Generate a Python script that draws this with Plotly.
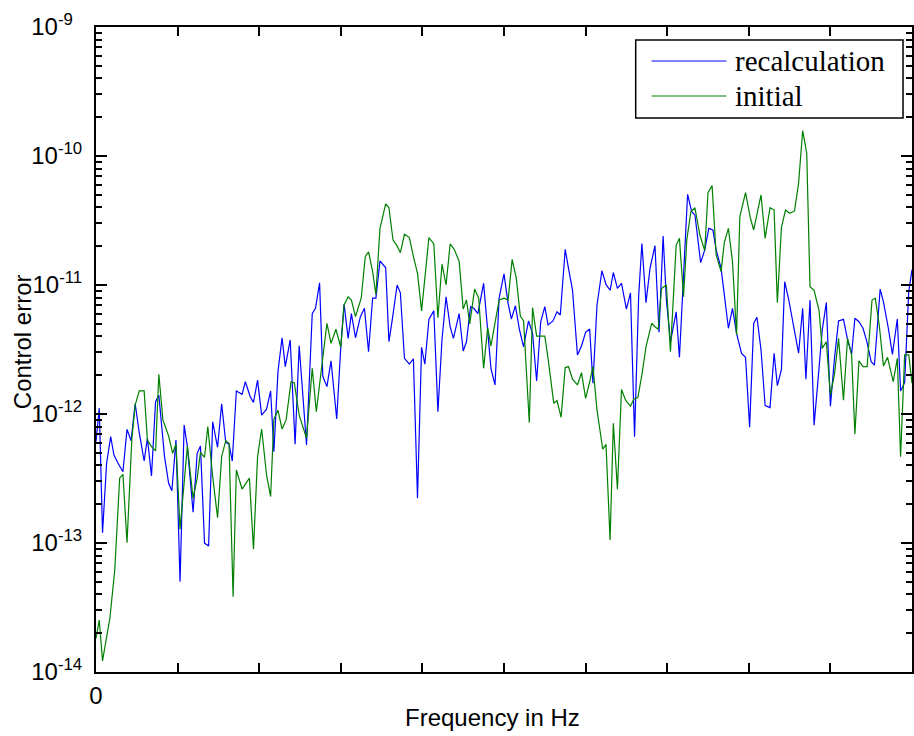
import plotly.graph_objects as go

# Frequency grid (Hz) and control error of each run, error stored in units of 1e-12
freq_recalc = [
    0, 4, 8, 13, 18, 22, 27, 33, 38, 43,
    48, 53, 59, 63, 68, 73, 77, 84, 89, 93,
    98, 103, 108, 112, 119, 124, 128, 133, 138, 143,
    149, 154, 159, 163, 167, 172, 179, 183, 189, 193,
    198, 203, 209, 214, 218, 223, 228, 232, 238, 244,
    249, 258, 265, 269, 274, 278, 283, 288, 295, 300,
    304, 309, 313, 318, 324, 329, 334, 339, 343, 348,
    355, 359, 363, 369, 373, 378, 384, 389, 394, 399,
    403, 408, 414, 419, 424, 429, 434, 438, 445, 450,
    454, 459, 463, 468, 475, 479, 484, 489, 494, 500,
    505, 509, 514, 519, 524, 530, 535, 540, 545, 550,
    554, 560, 565, 569, 575, 579, 584, 590, 595, 600,
    605, 609, 614, 620, 625, 630, 634, 639, 644, 650,
    655, 660, 665, 669, 674, 679, 685, 690, 695, 699,
    704, 711, 715, 725, 730, 734, 741, 746, 751, 756,
    760, 766, 770, 775, 780, 785, 791, 796, 801, 806,
    810, 815, 820, 826, 831, 835, 840, 844, 849, 855,
    861, 866, 870, 875, 880, 885, 890, 895, 900, 905,
    910, 916, 921, 926, 930, 935, 940, 945, 950, 954,
    961, 965, 971, 976, 982, 986, 991, 996, 1000,
]
recalc_pico = [
    0.61, 1.11, 0.12, 0.415, 0.667, 0.481, 0.415, 0.357, 0.76, 0.621,
    1.2, 0.716, 0.432, 0.648, 0.331, 1.245, 1.4, 0.467, 0.29, 0.254,
    0.629, 0.05, 0.82, 0.558, 0.173, 0.496, 0.565, 0.0995, 0.095, 0.871,
    0.552, 1.2, 0.6, 0.585, 0.432, 1.51, 1.42, 1.78, 1.36, 1.23,
    1.83, 0.98, 1.09, 1.51, 0.51, 2.13, 3.9, 2.33, 3.75, 0.582,
    3.38, 0.575, 6.0, 6.6, 10.4, 1.95, 1.63, 2.58, 0.915, 3.32,
    7.1, 3.86, 6.0, 3.9, 5.68, 6.6, 3.04, 7.9, 7.9, 15.4,
    13.6, 3.63, 5.35, 10.0, 8.7, 2.7, 2.44, 2.67, 0.222, 3.29,
    2.43, 5.42, 6.3, 1.04, 3.75, 8.1, 4.75, 3.86, 6.0, 3.08,
    3.63, 6.8, 6.6, 6.0, 10.3, 5.35, 2.26, 1.68, 7.9, 12.2,
    7.2, 5.45, 6.9, 4.48, 3.32, 5.26, 4.22, 1.8, 5.19, 6.8,
    4.9, 5.26, 6.2, 5.85, 18.9, 13.5, 9.1, 2.87, 3.37, 4.3,
    4.56, 1.73, 7.0, 12.9, 10.1, 9.1, 12.5, 9.4, 10.3, 6.5,
    8.7, 0.667, 8.1, 21.0, 7.3, 13.5, 20.2, 4.3, 24.0, 7.65,
    3.63, 6.2, 2.75, 50.5, 37.0, 34.9, 14.9, 18.7, 27.5, 26.7,
    18.7, 13.5, 8.6, 4.62, 6.6, 4.22, 2.96, 2.75, 0.79, 5.05,
    5.62, 3.13, 1.16, 1.12, 2.96, 1.66, 2.22, 10.6, 7.65, 4.62,
    2.96, 6.6, 1.86, 7.65, 0.82, 1.89, 4.48, 7.3, 1.15, 2.7,
    5.26, 5.42, 3.79, 2.92, 5.52, 5.19, 4.62, 3.57, 2.54, 2.39,
    9.3, 7.4, 4.62, 2.9, 5.45, 1.51, 1.75, 8.9, 13.1,
]

freq_initial = [
    0, 4, 8, 17, 23, 29, 33, 38, 44, 48,
    53, 59, 63, 68, 73, 77, 82, 89, 94, 98,
    103, 108, 112, 119, 124, 128, 133, 137, 143, 149,
    154, 159, 163, 168, 172, 179, 188, 193, 198, 203,
    209, 214, 218, 223, 228, 233, 239, 243, 249, 258,
    265, 270, 277, 283, 288, 294, 300, 304, 309, 313,
    318, 325, 330, 334, 339, 343, 348, 355, 359, 364,
    369, 373, 378, 384, 389, 394, 399, 403, 408, 414,
    419, 424, 429, 434, 439, 445, 450, 454, 458, 464,
    469, 475, 480, 484, 494, 500, 505, 510, 515, 520,
    524, 531, 535, 540, 550, 554, 561, 565, 570, 575,
    579, 584, 590, 595, 600, 605, 609, 614, 621, 625,
    630, 634, 639, 644, 649, 655, 659, 664, 669, 674,
    681, 685, 689, 693, 699, 704, 711, 715, 720, 724,
    729, 734, 740, 746, 750, 755, 760, 766, 770, 775,
    780, 785, 789, 796, 802, 806, 811, 815, 820, 826,
    831, 835, 840, 845, 850, 856, 861, 866, 871, 875,
    880, 886, 890, 895, 900, 905, 910, 916, 921, 926,
    930, 935, 940, 945, 951, 955, 960, 965, 970, 977,
    982, 986, 991, 996, 1000,
]
initial_pico = [
    0.0182, 0.0253, 0.0122, 0.0261, 0.0618, 0.318, 0.341, 0.1005, 0.648, 1.17,
    1.51, 1.51, 0.629, 0.558, 0.517, 2.03, 0.9, 0.675, 0.496, 0.585,
    0.128, 0.29, 0.565, 0.222, 0.318, 0.505, 0.462, 0.8, 0.327, 0.157,
    0.467, 0.621, 0.593, 0.0383, 0.368, 0.262, 0.318, 0.0894, 0.467, 0.765,
    0.337, 0.229, 0.91, 1.07, 0.765, 0.9, 1.78, 1.75, 0.98, 0.648,
    2.26, 1.04, 2.33, 5.05, 3.53, 4.54, 3.29, 7.0, 8.1, 7.65,
    5.68, 7.9, 16.6, 18.1, 12.7, 8.4, 27.5, 42.5, 39.7, 22.3,
    20.1, 17.8, 24.7, 23.3, 16.6, 12.3, 6.3, 12.0, 23.3, 20.8,
    5.58, 14.5, 10.0, 20.8, 18.9, 15.3, 6.5, 7.65, 4.99, 9.3,
    7.9, 2.26, 4.67, 3.38, 7.65, 7.9, 7.65, 15.8, 11.3, 5.75,
    5.26, 0.857, 6.67, 4.02, 4.02, 2.7, 1.21, 1.27, 0.943, 2.29,
    2.33, 1.86, 1.68, 2.09, 1.32, 1.77, 2.33, 1.07, 0.533, 0.582,
    0.1055, 0.847, 0.261, 1.55, 1.28, 1.15, 1.3, 1.34, 2.01, 3.32,
    5.05, 4.75, 4.54, 9.4, 10.0, 3.04, 20.4, 23.0, 8.1, 22.3,
    37.0, 39.7, 24.4, 18.5, 52.0, 58.9, 17.1, 12.7, 21.3, 27.5,
    15.2, 4.1, 33.9, 52.0, 32.9, 26.7, 36.8, 49.9, 23.0, 39.7,
    38.1, 7.29, 28.0, 38.1, 36.0, 37.5, 61.4, 157, 105, 9.7,
    9.1, 6.4, 3.23, 3.63, 1.4, 2.04, 3.86, 1.28, 3.86, 2.87,
    0.696, 2.58, 2.33, 2.33, 7.65, 7.9, 4.81, 2.36, 2.75, 1.78,
    2.7, 0.467, 2.87, 2.87, 1.73,
]

series_names = ["recalculation", "initial"]
series_colors = ["#0000ff", "#008000"]
x_title = "Frequency in Hz"
y_title = "Control error"

x_tick_vals = [0, 100, 200, 300, 400, 500, 600, 700, 800, 900, 1000]
x_tick_text = ["0", "", "", "", "", "", "", "", "", "", ""]
y_tick_vals = [1e-14, 1e-13, 1e-12, 1e-11, 1e-10, 1e-9]
# the one-digit exponent is padded so every "10" starts at the same x
y_tick_text = ["10<sup>-14</sup>", "10<sup>-13</sup>", "10<sup>-12</sup>",
               "10<sup>-11</sup>", "10<sup>-10</sup>", "10<sup>-9\u00a0\u00a0</sup>"]
y_minor_vals = [m * 10.0 ** k for k in range(-14, -9) for m in range(2, 10)]

PICO = 1e-12
SANS = "Liberation Sans, Arial, sans-serif"
SERIF = "Liberation Serif, Times New Roman, serif"

fig = go.Figure()
fig.add_trace(go.Scatter(
    x=freq_recalc, y=[v * PICO for v in recalc_pico], mode="lines",
    name=series_names[0], line=dict(color=series_colors[0], width=1.2),
))
fig.add_trace(go.Scatter(
    x=freq_initial, y=[v * PICO for v in initial_pico], mode="lines",
    name=series_names[1], line=dict(color=series_colors[1], width=1.2),
))

# Boxed legend with long line samples, placed in the top-right corner of the axes
box = dict(x0=0.6614, x1=0.989, y0=0.8589, y1=0.9798)
fig.add_shape(type="rect", xref="x domain", yref="y domain", **box,
              line=dict(color="black", width=1.5), fillcolor="white", layer="above")
for name, color, yy in zip(series_names, series_colors, [0.9473, 0.8930]):
    fig.add_shape(type="line", xref="x domain", yref="y domain",
                  x0=0.6809, x1=0.7726, y0=yy, y1=yy,
                  line=dict(color=color, width=1.2), layer="above")
    fig.add_annotation(xref="x domain", yref="y domain", x=0.7812, y=yy,
                       text=name, showarrow=False, xanchor="left", yanchor="middle",
                       font=dict(family=SERIF, size=29, color="black"))

# Axis titles
fig.add_annotation(xref="paper", yref="paper", x=0.4853, y=-0.0713,
                   text=x_title, showarrow=False, xanchor="center", yanchor="middle",
                   font=dict(family=SANS, size=24, color="black"))
fig.add_annotation(xref="paper", yref="paper", x=-0.0905, y=0.5116,
                   text=y_title, showarrow=False, textangle=-90,
                   xanchor="center", yanchor="middle",
                   font=dict(family=SANS, size=24, color="black"))

fig.update_layout(
    width=914, height=736,
    margin=dict(l=96, r=0, t=27, b=64),
    paper_bgcolor="white", plot_bgcolor="white",
    showlegend=False,
    font=dict(family=SANS, color="black"),
)
fig.update_xaxes(
    range=[0, 1000], tickmode="array", tickvals=x_tick_vals, ticktext=x_tick_text,
    ticks="inside", ticklen=9, tickwidth=1.5, tickcolor="black",
    showline=True, linecolor="black", linewidth=2, mirror="ticks",
    showgrid=False, zeroline=False, ticklabelstandoff=1,
    tickfont=dict(family=SANS, size=24, color="black"),
)
fig.update_yaxes(
    type="log", range=[-14, -9], tickmode="array", tickvals=y_tick_vals,
    ticktext=y_tick_text,
    ticks="inside", ticklen=11, tickwidth=1.5, tickcolor="black",
    minor=dict(tickmode="array", tickvals=y_minor_vals, ticks="inside",
               ticklen=6, tickwidth=1.5, tickcolor="black", showgrid=False),
    showline=True, linecolor="black", linewidth=2, mirror="allticks",
    showgrid=False, zeroline=False, ticklabelstandoff=7,
    tickfont=dict(family=SANS, size=24, color="black"),
)

fig.write_html("out.html")
